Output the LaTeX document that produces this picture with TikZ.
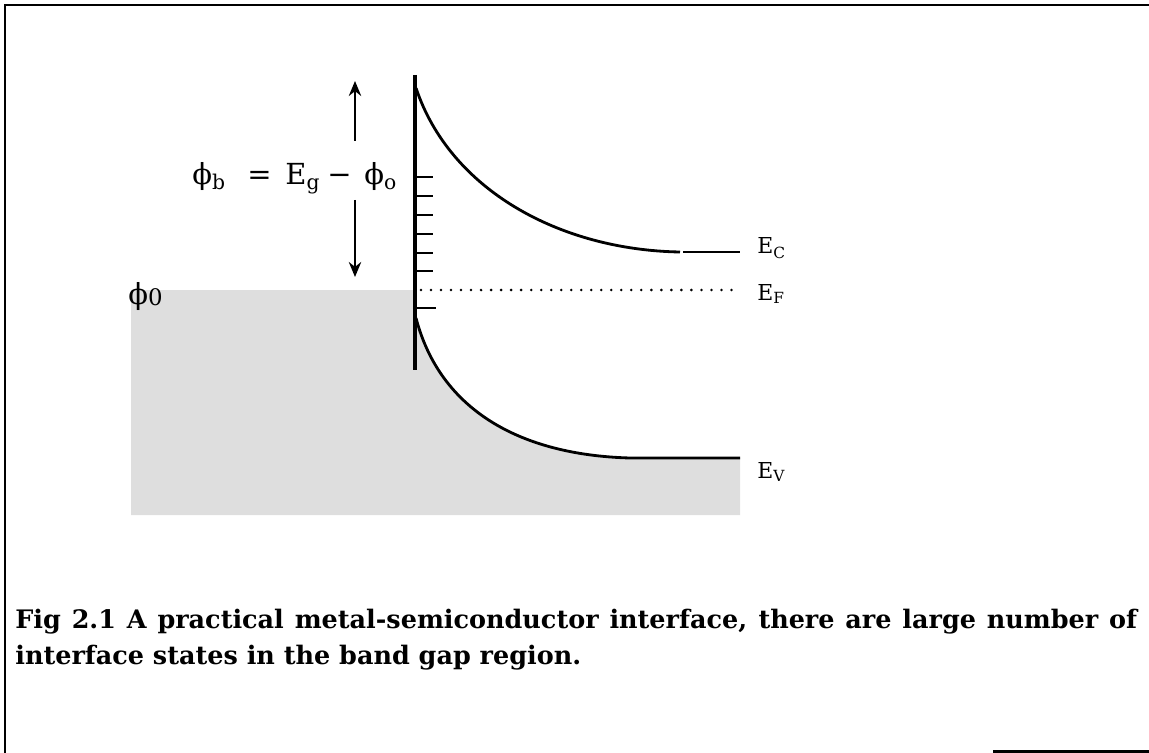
\documentclass[tikz,border=0pt]{standalone}
\usepackage{fontspec}
\setmainfont{DejaVu Serif}
\usetikzlibrary{arrows.meta}
\begin{document}
\begin{tikzpicture}[x=0.02cm,y=-0.02cm,
  frame/.style={line width=1.7pt},
  band/.style={line width=1.6pt},
  statetick/.style={line width=1.5pt},
  arr/.style={line width=1.4pt,-{Stealth[length=8.5pt,width=7pt]}},
  lbl/.style={inner sep=0pt,anchor=base west,font=\fontsize{12.5}{12.5}\selectfont},
  eq/.style={inner sep=0pt,anchor=base west,font=\fontsize{16.5}{16.5}\selectfont},
  captext/.style={inner sep=0pt,anchor=base west,text width=22.44cm,align=justify,
    font=\fontsize{14.5}{20.9}\selectfont\bfseries}]
\useasboundingbox (0,0) rectangle (1149,753);
% frame
\draw[frame] (5,753) -- (5,5) -- (1149,5);
\draw[frame] (993,751) -- (1149,751);
% shaded filled states
\fill[black!13] (131,290) -- (415,290) -- (415,318)
  .. controls (440,410) and (520,455) .. (630,458) -- (740,458)
  -- (740,515) -- (131,515) -- cycle;
% interface
\draw[line width=2pt] (415,75) -- (415,370);
% conduction band
\draw[band] (416,88) .. controls (450,190) and (560,250) .. (680,252);
\draw[band] (683,252) -- (740,252);
% valence band
\draw[band] (416,318) .. controls (440,410) and (520,455) .. (630,458) -- (740,458);
% Fermi level
\draw[line width=1.6pt,line cap=round,dash pattern=on 0pt off 5.7pt] (421,290) -- (735,290);
% interface states
\foreach \yy in {177,196,215,234,253,271}
  \draw[statetick] (415,\yy) -- (433,\yy);
\draw[statetick] (415,308) -- (436,308);
% arrows
\coordinate (a1) at (355,141);
\coordinate (a1t) at (355,81);
\coordinate (a2) at (355,200);
\coordinate (a2t) at (355,277);
\draw[arr] (a1) -- (a1t);
\draw[arr] (a2) -- (a2t);
% equation
\node[eq] (phib) at (192,185) {ϕ\textsubscript{b}};
\node[eq] (eqsign) at (247,185) {=};
\node[eq] (eg) at (285,185) {E\textsubscript{g}};
\node[eq] (minus) at (327,185) {−};
\node[eq] (phio) at (364,185) {ϕ\textsubscript{o}};
\node[eq] (phi0) at (128,304) {ϕ\raisebox{-0.1ex}{\fontsize{13}{13}\selectfont 0}};
% labels
\node[lbl] (ec) at (757,254) {E\textsubscript{C}};
\node[lbl] (ef) at (757,300) {E\textsubscript{F}};
\node[lbl] (ev) at (757,478) {E\textsubscript{V}};
% caption
\node[captext] (caption) at (15,628) {Fig 2.1 A practical metal-semiconductor interface, there are large number of\linebreak interface states in the band gap region.};
\end{tikzpicture}
\end{document}
